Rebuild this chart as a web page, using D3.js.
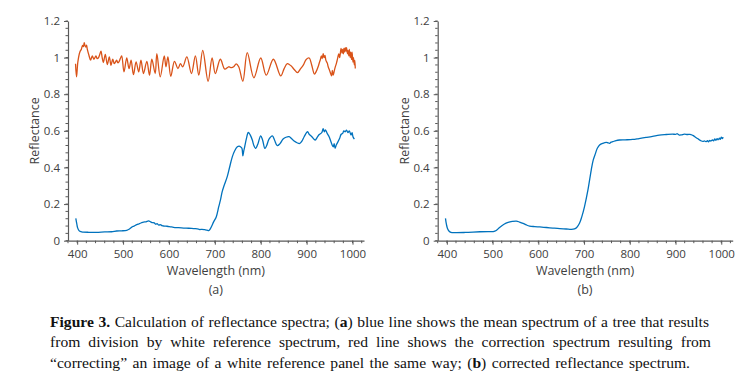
<!DOCTYPE html>
<html><head><meta charset="utf-8">
<script src="https://cdn.jsdelivr.net/npm/d3@7"></script>
<style>
html,body{margin:0;padding:0;background:#fff;}
svg{display:block;}
</style></head>
<body>
<svg id="chart" width="754" height="382"></svg>
<script>
// ---------- data ----------
const xTicks = [400, 500, 600, 700, 800, 900, 1000];
const xTickLabels = ["400", "500", "600", "700", "800", "900", "1000"];
const yTicks = [0, 0.2, 0.4, 0.6, 0.8, 1, 1.2];
const yTickLabels = ["0", "0.2", "0.4", "0.6", "0.8", "1", "1.2"];

// panel (a) red: correction spectrum [wavelength nm, reflectance]
const redA = [
[396.4,0.967],[398.6,0.895],[401.5,0.977],[405.9,1.031],[409,1.045],[411.7,1.067],[413.5,1.06],[415.4,1.082],[417,1.065],
[419,1.058],[420.5,1.068],[422,1.046],[425.6,1.013],[429.2,0.986],[432.9,1.009],[436.5,0.991],[440.9,1.009],[443.5,0.995],
[446,0.998],[448.5,1.012],[451.8,1.035],[454.5,1.0],[457,0.973],[461.3,1.017],[465.7,0.962],[470,1.004],[473.7,0.958],
[477.4,0.991],[481,0.967],[486,0.986],[488.5,0.972],[491,0.977],[494,0.995],[497,1.009],[502,0.922],[508,0.998],[513,0.94],
[517.5,0.986],[522.6,0.907],[528.4,0.977],[534,0.922],[539,0.986],[544.5,0.913],[551.8,0.98],[557.6,0.904],[562.7,0.991],
[570,0.913],[573.6,1.022],[581,0.895],[589.7,1.009],[593.5,0.95],[597.7,1.004],[604,0.898],[612,0.98],[619.6,0.94],
[625,0.967],[630,0.95],[639,1.004],[649,0.913],[657.6,1.009],[665,0.904],[673.6,1.04],[685.3,0.871],[694,0.998],
[701,0.913],[712,0.991],[721.7,0.937],[730,0.95],[736,0.945],[741,0.95],[746.5,0.966],[752,0.95],[761,0.871],
[770.6,1.027],[785,0.89],[800,0.998],[812,0.904],[827.5,0.991],[843.6,0.9],[851,0.94],[858,0.967],[866,0.955],
[873,0.935],[880,0.918],[887,0.94],[893,0.96],[899,0.99],[905.6,0.998],[911,0.96],[917,0.91],[921,0.925],[925,0.95],
[928,0.975],[930,0.99],[932,1.01],[934,0.995],[936,1.022],[938,1.0],[940,1.012],[942,0.985],[945,0.97],[947,0.95],
[950,0.93],[952,0.915],[954.4,0.9],[956,0.93],[958,0.905],[960,0.925],[962,0.945],[965,0.97],[967,0.99],[970,1.02],
[972,1.0],[975,1.05],[977,1.025],[978,1.045],[980,1.02],[981,1.05],[983,1.03],[984,1.055],[986,1.035],[987,1.055],
[989,1.02],[990,1.04],[992,1.01],[993,1.045],[995,1.0],[996,1.03],[998,0.99],[999,1.03],[1001,0.975],[1002,1.0],
[1004,0.96],[1005,0.985],[1006,0.94]
];

// panel (a) blue: mean spectrum of a tree
const blueA = [
[397,0.122],[399,0.095],[401,0.07],[404,0.055],[408,0.049],[413,0.047],[425,0.046],[442,0.046],[460,0.048],[475,0.049],
[486,0.053],[497,0.054],[508,0.057],[514,0.064],[519,0.074],[524,0.08],[530,0.088],[535,0.092],[540,0.098],[544.5,0.102],
[550,0.103],[555.5,0.108],[560,0.103],[563,0.099],[568,0.097],[571,0.09],[574,0.093],[578,0.085],[581,0.088],[585,0.082],
[590,0.08],[596,0.079],[603,0.076],[610,0.073],[620,0.071],[632,0.069],[643,0.068],[654,0.066],[662,0.065],[667,0.061],
[672,0.062],[678,0.06],[683,0.058],[686.7,0.055],[690,0.065],[697.6,0.104],[703,0.13],[708.5,0.186],[712,0.22],
[716,0.268],[720,0.3],[727,0.35],[732,0.4],[738,0.458],[743,0.49],[749,0.513],[753,0.517],[756,0.513],[759,0.505],
[761,0.464],[763,0.49],[765,0.513],[769,0.56],[772.8,0.591],[777,0.578],[781.6,0.55],[785,0.52],[788.8,0.504],
[794,0.53],[799.8,0.573],[804,0.55],[809,0.504],[813,0.52],[818,0.555],[825.3,0.573],[830,0.55],[836,0.519],
[842,0.53],[848.7,0.555],[855,0.565],[861.8,0.568],[867,0.558],[872.7,0.544],[879,0.535],[885,0.531],[890,0.545],
[894.6,0.568],[902,0.595],[906,0.58],[911.4,0.568],[918.7,0.55],[923,0.565],[927.4,0.58],[933,0.59],[936,0.612],
[938.4,0.595],[941,0.605],[945,0.585],[949,0.568],[953,0.54],[956,0.52],[958,0.513],[960,0.53],[962,0.505],[965,0.525],
[967.6,0.537],[972,0.56],[975,0.58],[978.5,0.586],[981,0.6],[984,0.595],[987,0.604],[990,0.59],[993,0.6],
[996.7,0.577],[999,0.59],[1001,0.568],[1004,0.555]
];

// panel (b) blue: corrected reflectance spectrum
const blueB = [
[397,0.122],[399,0.09],[401.4,0.067],[405,0.052],[408.7,0.046],[418,0.044],[440,0.045],[472.5,0.049],[490,0.05],
[501.5,0.05],[508,0.056],[516,0.074],[525,0.09],[534,0.1],[543,0.105],[552,0.107],[559,0.102],[566.6,0.095],[574,0.086],
[581,0.08],[592,0.077],[603,0.075],[618,0.072],[632,0.069],[647,0.066],[661,0.064],[672,0.062],[679,0.064],[684,0.072],
[690,0.095],[695,0.13],[701,0.186],[708.5,0.277],[715.7,0.386],[720,0.44],[725,0.477],[729,0.505],[734,0.523],[741,0.532],
[748.6,0.537],[752,0.535],[755.8,0.532],[759,0.538],[763,0.541],[770,0.547],[777.5,0.55],[790,0.551],[806.5,0.553],
[820,0.558],[835.5,0.564],[850,0.57],[864.5,0.577],[880,0.58],[893.6,0.582],[900,0.581],[904,0.584],[908,0.577],
[913,0.578],[919,0.582],[926,0.58],[933.6,0.58],[939,0.574],[944.5,0.564],[950,0.555],[955.4,0.546],[960,0.542],
[963,0.545],[966.3,0.541],[970,0.546],[972,0.54],[975,0.548],[977,0.544],[980.8,0.55],[983,0.545],[986,0.556],
[988,0.548],[991,0.558],[993,0.551],[996,0.56],[998,0.553],[1000,0.565],[1002.5,0.558],[1004,0.566]
];

const captionLines = [
  [["b","Figure 3."],["n"," Calculation of reflectance spectra; ("],["b","a"],["n",") blue line shows the mean spectrum of a tree that results"]],
  [["n","from division by white reference spectrum, red line shows the correction spectrum resulting from"]],
  [["n","\u201Ccorrecting\u201D an image of a white reference panel the same way; ("],["b","b"],["n",") corrected reflectance spectrum."]]
];

// ---------- drawing ----------
const svg = d3.select("#chart");
const axisColor = "#595959";
const textColor = "#404040";
const blue = "#0072BD", red = "#D95319";
const sansFont = "'Open Sans', 'DejaVu Sans', sans-serif";

function panel(left, right, series, label) {
  const x = d3.scaleLinear().domain([380, 1025]).range([left, right]);
  const y = d3.scaleLinear().domain([0, 1.2]).range([240.7, 21]);
  const g = svg.append("g");

  // minor ticks
  const minorX = d3.range(380, 1025, 20);
  g.selectAll(".mx").data(minorX).enter().append("line")
    .attr("x1", d => x(d)).attr("x2", d => x(d))
    .attr("y1", y(0)).attr("y2", y(0) + 2.5)
    .attr("stroke", axisColor).attr("stroke-width", 1);
  const minorY = d3.range(0, 1.2001, 0.04);
  g.selectAll(".my").data(minorY).enter().append("line")
    .attr("x1", left - 2.5).attr("x2", left)
    .attr("y1", d => y(d)).attr("y2", d => y(d))
    .attr("stroke", axisColor).attr("stroke-width", 1);

  const xAxis = d3.axisBottom(x).tickValues(xTicks).tickFormat((d, i) => xTickLabels[i])
    .tickSize(4).tickSizeOuter(0).tickPadding(5);
  const gx = g.append("g").attr("transform", `translate(0,${y(0)})`).call(xAxis);
  const yAxis = d3.axisLeft(y).tickValues(yTicks).tickFormat((d, i) => yTickLabels[i])
    .tickSize(4).tickSizeOuter(0).tickPadding(4);
  const gy = g.append("g").attr("transform", `translate(${left},0)`).call(yAxis);
  [gx, gy].forEach(a => {
    a.select(".domain").attr("stroke", axisColor).attr("stroke-width", 1.2);
    a.selectAll(".tick line").attr("stroke", axisColor).attr("stroke-width", 1);
    a.selectAll("text").attr("fill", textColor).style("font-family", sansFont).style("font-size", "11.5px");
  });

  const line = d3.line().x(d => x(d[0])).y(d => y(d[1])).curve(d3.curveCatmullRom.alpha(0.5));
  series.forEach(s => {
    g.append("path").datum(s.data).attr("d", line)
      .attr("fill", "none").attr("stroke", s.color).attr("stroke-width", 1.3)
      .attr("stroke-linejoin", "round");
  });

  const cx = (x(400) + x(1000)) / 2 + 1;
  g.append("text").attr("x", cx).attr("y", 275).attr("text-anchor", "middle")
    .attr("fill", textColor).style("font-family", sansFont).style("font-size", "12.5px").text("Wavelength (nm)");
  g.append("text").attr("x", cx).attr("y", 294).attr("text-anchor", "middle")
    .attr("fill", textColor).style("font-family", sansFont).style("font-size", "12.5px").text(label);
  g.append("text").attr("transform", `translate(${left - 29},${y(0.6)}) rotate(-90)`)
    .attr("text-anchor", "middle").attr("fill", textColor)
    .style("font-family", sansFont).style("font-size", "12.5px").text("Reflectance");
}

panel(68, 364, [{data: redA, color: red}, {data: blueA, color: blue}], "(a)");
panel(437.7, 732.7, [{data: blueB, color: blue}], "(b)");

// caption, justified by word spacing
const capY = [327, 347, 368];
const capW = [659, 661, 640];
captionLines.forEach((parts, i) => {
  const t = svg.append("text").attr("x", 50).attr("y", capY[i])
    .attr("fill", "#111").style("font-family", "'Liberation Serif', 'DejaVu Serif', serif").style("font-size", "15.6px");
  parts.forEach(p => {
    t.append("tspan").style("font-weight", p[0] === "b" ? "bold" : "normal").text(p[1]);
  });
  const natural = t.node().getComputedTextLength();
  const spaces = parts.map(p => p[1]).join("").split(" ").length - 1;
  if (natural > capW[i]) {
    t.attr("textLength", capW[i]).attr("lengthAdjust", "spacingAndGlyphs");
  } else {
    t.style("word-spacing", ((capW[i] - natural) / spaces) + "px");
  }
});
</script>
</body></html>
